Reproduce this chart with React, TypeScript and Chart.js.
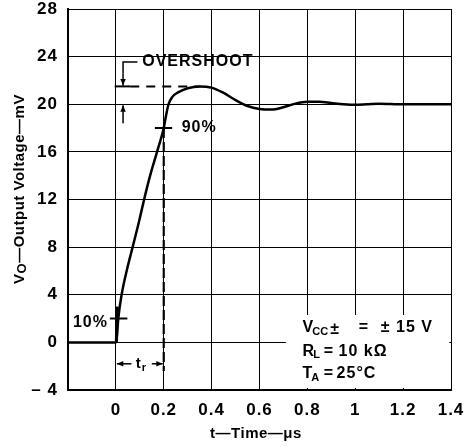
import React, { useEffect, useRef } from "react";
import { Chart, registerables } from "chart.js";

Chart.register(...registerables);

// Step response data (time in µs, output voltage in mV)
const timeUs = [-0.2, 0, 0.004, 0.01, 0.024, 0.045, 0.07, 0.095, 0.118, 0.143, 0.172, 0.2, 0.21, 0.22, 0.235, 0.26, 0.3, 0.35, 0.4, 0.45, 0.5, 0.55, 0.6, 0.65, 0.7, 0.75, 0.8, 0.85, 0.9, 0.95, 1.0, 1.05, 1.1, 1.2, 1.3, 1.4];
const voltageMv = [0, 0, 0.4, 2, 4, 6, 8, 10, 12, 14, 16, 18, 19.1, 20.0, 20.6, 21.0, 21.35, 21.5, 21.4, 20.95, 20.35, 19.85, 19.6, 19.55, 19.75, 20.05, 20.2, 20.2, 20.1, 20.0, 19.95, 20.0, 20.05, 20.0, 20.0, 20.0];

const xMin = -0.2, xMax = 1.4, xStep = 0.2;
const yMin = -4, yMax = 28, yStep = 4;

const overshootLevel = 21.5;
const finalLevel = 20;
const level10 = 2;
const level90 = 18;
const t10 = 0.0;
const t90 = 0.2;

const FONT = '"Liberation Sans", Arial, Helvetica, sans-serif';

function arrow(ctx: CanvasRenderingContext2D, x1: number, y1: number, x2: number, y2: number, head = 7) {
  ctx.beginPath();
  ctx.moveTo(x1, y1);
  ctx.lineTo(x2, y2);
  ctx.stroke();
  const a = Math.atan2(y2 - y1, x2 - x1);
  ctx.beginPath();
  ctx.moveTo(x2, y2);
  ctx.lineTo(x2 - head * Math.cos(a - 0.4), y2 - head * Math.sin(a - 0.4));
  ctx.lineTo(x2 - head * Math.cos(a + 0.4), y2 - head * Math.sin(a + 0.4));
  ctx.closePath();
  ctx.fill();
}

const annotations = {
  id: "annotations",
  beforeDraw(chart: any) {
    (chart.ctx as any).letterSpacing = "1px";
  },
  beforeDatasetsDraw(chart: any) {
    const { ctx, scales } = chart;
    const x = scales.x, y = scales.y;
    ctx.save();
    ctx.fillStyle = "#fff";
    const bx1 = x.getPixelForValue(0.71), bx2 = x.getPixelForValue(1.393);
    const by1 = y.getPixelForValue(2.3), by2 = y.getPixelForValue(-3.83);
    ctx.fillRect(bx1, by1, bx2 - bx1, by2 - by1);
    ctx.restore();
  },
  afterDatasetsDraw(chart: any) {
    const { ctx, scales } = chart;
    const x = scales.x, y = scales.y;
    const px = (v: number) => x.getPixelForValue(v);
    const py = (v: number) => y.getPixelForValue(v);
    ctx.save();
    ctx.strokeStyle = "#000";
    ctx.fillStyle = "#000";
    ctx.lineCap = "butt";

    // overshoot dashed line
    ctx.lineWidth = 2;
    ctx.setLineDash([9, 7]);
    ctx.beginPath();
    ctx.moveTo(px(0.06), py(overshootLevel));
    ctx.lineTo(px(0.35), py(overshootLevel));
    ctx.stroke();
    ctx.setLineDash([]);
    ctx.beginPath();
    ctx.moveTo(px(-0.005), py(overshootLevel));
    ctx.lineTo(px(0.06), py(overshootLevel));
    ctx.stroke();

    // overshoot arrows
    ctx.lineWidth = 1.5;
    const ax = px(0.03);
    ctx.beginPath();
    ctx.moveTo(px(0.09), py(23.55));
    ctx.lineTo(ax, py(23.55));
    ctx.lineTo(ax, py(22.6));
    ctx.stroke();
    arrow(ctx, ax, py(22.6), ax, py(overshootLevel) - 1, 7);
    arrow(ctx, ax, py(18.4), ax, py(finalLevel) + 1, 7);

    // 90% vertical dashed line
    ctx.lineWidth = 2.2;
    ctx.setLineDash([10, 4]);
    ctx.beginPath();
    ctx.moveTo(px(t90), py(level90));
    ctx.lineTo(px(t90), py(-2.4));
    ctx.stroke();
    ctx.setLineDash([]);

    // 10% / 90% ticks
    ctx.lineWidth = 2;
    ctx.beginPath();
    ctx.moveTo(px(-0.025), py(level10));
    ctx.lineTo(px(0.048), py(level10));
    ctx.moveTo(px(0.163), py(level90));
    ctx.lineTo(px(0.235), py(level90));
    ctx.stroke();
    ctx.lineWidth = 3;
    ctx.beginPath();
    ctx.moveTo(px(0.002), py(0));
    ctx.lineTo(px(0.006), py(3));
    ctx.stroke();

    // tr arrows
    ctx.lineWidth = 1.5;
    const ty = py(-1.8);
    arrow(ctx, px(0.065), ty, px(t10) + 1, ty, 7);
    arrow(ctx, px(0.15), ty, px(t90) - 1, ty, 7);

    ctx.textBaseline = "middle";
    ctx.font = `bold 16px ${FONT}`;
    ctx.textAlign = "left";
    ctx.fillText("OVERSHOOT", px(0.11), py(23.55));
    ctx.fillText("90%", px(0.275), py(level90));
    ctx.textAlign = "right";
    ctx.fillText("10%", px(-0.033), py(1.7));
    ctx.textAlign = "left";
    ctx.font = `bold 15px ${FONT}`;
    ctx.fillText("t", px(0.083), ty);
    ctx.font = `bold 11px ${FONT}`;
    ctx.fillText("r", px(0.083) + 6, ty + 4);

    // conditions text
    const rows = [
      { main: "V", sub: "CC", suf: "±", eq: 1.015, val: "± 15 V", valx: 1.107, yv: 1.2 },
      { main: "R", sub: "L", suf: "", eq: 0.868, val: "10 kΩ", valx: 0.93, yv: -0.75 },
      { main: "T", sub: "A", suf: "", eq: 0.868, val: "25°C", valx: 0.922, yv: -2.65 },
    ];
    const lx = px(0.78);
    for (const r of rows) {
      const yy = py(r.yv);
      ctx.textAlign = "left";
      ctx.font = `bold 16px ${FONT}`;
      ctx.letterSpacing = "0px";
      ctx.fillText(r.main, lx, yy);
      let w = ctx.measureText(r.main).width - 1;
      ctx.font = `bold 11px ${FONT}`;
      ctx.fillText(r.sub, lx + w, yy + 4);
      w += ctx.measureText(r.sub).width + 2;
      ctx.font = `bold 16px ${FONT}`;
      if (r.suf) ctx.fillText(r.suf, lx + w, yy + 2);
      ctx.fillText("=", px(r.eq), yy);
      ctx.letterSpacing = "1px";
      ctx.fillText(r.val, px(r.valx), yy);
    }

    // axis titles
    ctx.letterSpacing = "0.5px";
    ctx.font = `bold 15px ${FONT}`;
    ctx.textAlign = "center";
    ctx.fillText("t—Time—μs", 256, 434);

    ctx.translate(20, 189);
    ctx.rotate(-Math.PI / 2);
    const part1 = "V";
    const part2 = "O";
    const part3 = "—Output Voltage—mV";
    ctx.font = `bold 15px ${FONT}`;
    const w1 = ctx.measureText(part1).width;
    ctx.font = `bold 13px ${FONT}`;
    const w2 = ctx.measureText(part2).width;
    ctx.font = `bold 15px ${FONT}`;
    const w3 = ctx.measureText(part3).width;
    const sx = -(w1 + w2 + w3) / 2;
    ctx.textAlign = "left";
    ctx.fillText(part1, sx, 0);
    ctx.font = `bold 13px ${FONT}`;
    ctx.fillText(part2, sx + w1, 2);
    ctx.font = `bold 15px ${FONT}`;
    ctx.fillText(part3, sx + w1 + w2, 0);
    ctx.restore();
  },
};

export default function App() {
  const ref = useRef<HTMLCanvasElement>(null);
  useEffect(() => {
    document.body.style.margin = "0";
    const chart = new Chart(ref.current!, {
      type: "line",
      data: {
        datasets: [
          {
            data: timeUs.map((t, i) => ({ x: t, y: voltageMv[i] })),
            borderColor: "#000",
            borderWidth: 2.5,
            pointRadius: 0,
            cubicInterpolationMode: "monotone",
          },
        ],
      },
      options: {
        animation: false,
        responsive: false,
        devicePixelRatio: 1,
        layout: { autoPadding: false, padding: { left: 0, top: 9, right: 18, bottom: 0 } },
        plugins: { legend: { display: false }, tooltip: { enabled: false } },
        scales: {
          x: {
            type: "linear",
            min: xMin,
            max: xMax,
            afterFit: (s: any) => { s.height = 57; s.paddingLeft = 0; s.paddingRight = 0; },
            ticks: {
              stepSize: xStep,
              color: "#000",
              padding: 10,
              font: { family: FONT, size: 17, weight: "bold" },
              callback: (v: any) => {
                const r = Math.round(Number(v) * 10) / 10;
                if (r < -0.1) return "";
                return String(r);
              },
            },
            grid: { color: "#000", lineWidth: 1, drawTicks: false },
            border: { color: "#000", width: 2 },
          },
          y: {
            type: "linear",
            min: yMin,
            max: yMax,
            afterFit: (s: any) => { s.width = 68; s.paddingTop = 0; s.paddingBottom = 0; },
            ticks: {
              stepSize: yStep,
              color: "#000",
              padding: 10,
              font: { family: FONT, size: 17, weight: "bold" },
              callback: (v: any) => (Number(v) < 0 ? "– " + Math.abs(Number(v)) : String(v)),
            },
            grid: { color: "#000", lineWidth: 1, drawTicks: false },
            border: { color: "#000", width: 2 },
          },
        },
      },
      plugins: [annotations],
    } as any);
    return () => chart.destroy();
  }, []);
  return <canvas ref={ref} width={469} height={447} style={{ display: "block" }} />;
}
